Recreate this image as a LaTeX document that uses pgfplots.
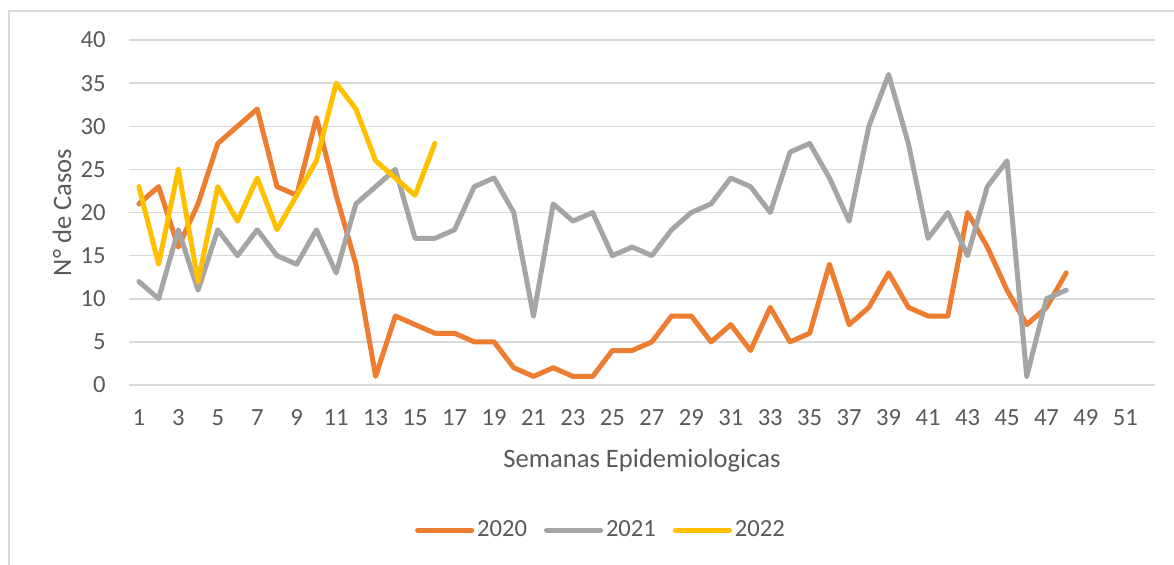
\documentclass[border=0pt]{standalone}
\usepackage{fontspec}
\setmainfont{Carlito}
\usepackage{pgfplots}
\pgfplotsset{compat=1.18}
\usepackage{pgfplotstable}
\definecolor{c2020}{HTML}{ED7D31}
\definecolor{c2021}{HTML}{A5A5A5}
\definecolor{c2022}{HTML}{FFC000}
\definecolor{gridc}{HTML}{D9D9D9}
\definecolor{txt}{HTML}{595959}

\pgfplotstableread{
w v
1 21
2 23
3 16
4 21
5 28
6 30
7 32
8 23
9 22
10 31
11 22
12 14
13 1
14 8
15 7
16 6
17 6
18 5
19 5
20 2
21 1
22 2
23 1
24 1
25 4
26 4
27 5
28 8
29 8
30 5
31 7
32 4
33 9
34 5
35 6
36 14
37 7
38 9
39 13
40 9
41 8
42 8
43 20
44 16
45 11
46 7
47 9
48 13
}\tA

\pgfplotstableread{
w v
1 12
2 10
3 18
4 11
5 18
6 15
7 18
8 15
9 14
10 18
11 13
12 21
13 23
14 25
15 17
16 17
17 18
18 23
19 24
20 20
21 8
22 21
23 19
24 20
25 15
26 16
27 15
28 18
29 20
30 21
31 24
32 23
33 20
34 27
35 28
36 24
37 19
38 30
39 36
40 28
41 17
42 20
43 15
44 23
45 26
46 1
47 10
48 11
}\tB

\pgfplotstableread{
w v
1 23
2 14
3 25
4 12
5 23
6 19
7 24
8 18
9 22
10 26
11 35
12 32
13 26
14 24
15 22
16 28
}\tC

\begin{document}
\begin{tikzpicture}[x=1pt,y=1pt]
\useasboundingbox (0,0) rectangle (587,282);
\draw[gridc, line width=0.75pt] (4.5,-10) -- (4.5,276.5) -- (600,276.5);
\begin{axis}[
  at={(64.5pt,89.5pt)}, anchor=south west,
  scale only axis, width=513pt, height=172.5pt,
  xmin=0.5, xmax=52.5, ymin=0, ymax=40,
  xtick={1,3,...,51}, ytick={0,5,...,40},
  axis line style={draw=none},
  major tick length=0pt,
  ymajorgrids, grid style={gridc, line width=0.75pt},
  font=\fontsize{12.3}{14}\selectfont,
  /pgf/number format/assume math mode=true,
  tick label style={text=txt},
  xticklabel style={anchor=base, yshift=-20pt, inner sep=0pt},
  yticklabel style={anchor=east, xshift=-11.5pt, inner sep=0pt},
  xlabel={Semanas Epidemiologicas},
  ylabel={N° de Casos},
  label style={text=txt, font=\fontsize{13.3}{15}\selectfont},
  xlabel style={at={(axis description cs:0.5,-0.2203)}, anchor=center},
  ylabel style={at={(axis description cs:-0.0653,0.5)}, anchor=center},
  legend columns=3,
  legend style={at={(axis description cs:0.4605,-0.4203)}, anchor=center,
    draw=none, fill=none, font=\fontsize{12.3}{14}\selectfont, text=txt,
    inner sep=0pt,
    nodes={inner sep=1.5pt},
    /tikz/every even column/.append style={column sep=7pt}},
  legend image code/.code={\draw[#1, line width=2.5pt] (0pt,0pt) -- (27pt,0pt);},
  every axis plot/.append style={line width=2.5pt, line join=round, line cap=round},
]
\addplot[c2020, no markers] table[x=w,y=v] {\tA};
\addplot[c2021, no markers] table[x=w,y=v] {\tB};
\addplot[c2022, no markers] table[x=w,y=v] {\tC};
\legend{2020,2021,2022}
\end{axis}
\end{tikzpicture}
\end{document}
